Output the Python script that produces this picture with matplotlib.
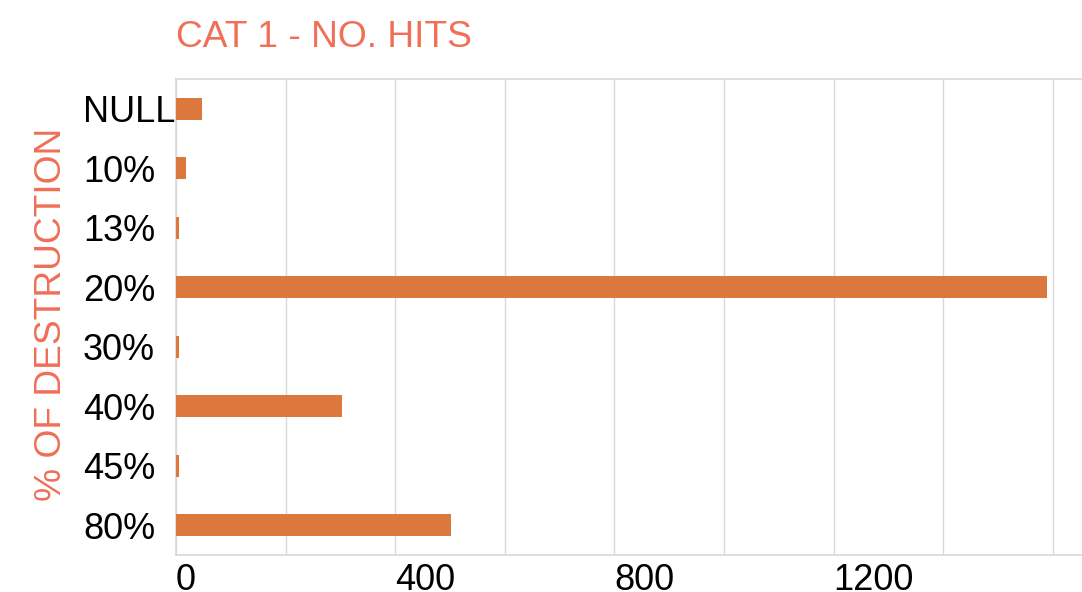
import matplotlib
matplotlib.use("Agg")
import matplotlib.pyplot as plt
from matplotlib.ticker import MultipleLocator, FuncFormatter

plt.rcParams['font.family'] = ['Liberation Sans', 'DejaVu Sans']

categories = ["NULL", "10%", "13%", "20%", "30%", "40%", "45%", "80%"]
hits = [47, 18, 5, 1590, 5, 303, 5, 502]
x_labels_shown = [0, 400, 800, 1200]

title_text = "CAT 1 - NO. HITS"
ylabel_text = "% OF DESTRUCTION"

bar_color = "#DC773E"
accent = "#EF6F57"
grid_color = "#D9D9D9"

W, H = 1082, 592
fig = plt.figure(figsize=(W / 100, H / 100), dpi=100)
ax = fig.add_axes([176 / W, (H - 555) / H, (W - 176) / W, 476 / H])

y = list(range(len(categories)))
ax.barh(y, hits, height=0.37, color=bar_color, zorder=3)
ax.set_ylim(len(categories) - 0.5, -0.5)
ax.set_xlim(0, 1653)

ax.xaxis.set_major_locator(MultipleLocator(200))
ax.xaxis.set_major_formatter(FuncFormatter(
    lambda v, p: f"{int(round(v))}" if int(round(v)) in x_labels_shown else ""))
ax.grid(axis="x", color=grid_color, linewidth=1, zorder=0)
ax.set_yticks(y)
ax.set_yticklabels(categories)

ax.tick_params(axis="both", length=0, labelsize=26, colors="black")
ax.tick_params(axis="y", pad=67)
ax.tick_params(axis="x", pad=6)
for lab in ax.get_yticklabels():
    lab.set_horizontalalignment("left")
for lab in ax.get_xticklabels():
    lab.set_horizontalalignment("left")

for side in ["left", "top", "bottom"]:
    ax.spines[side].set_color(grid_color)
    ax.spines[side].set_linewidth(1.2)
ax.spines["right"].set_visible(False)

fig.text(176 / W, (H - 47) / H, title_text, color=accent, fontsize=26.7,
         ha="left", va="baseline")
fig.text(52 / W, (H - 314) / H, ylabel_text, color=accent, fontsize=26.7,
         rotation=90, ha="center", va="center")

fig.savefig("out.png", dpi=100)
